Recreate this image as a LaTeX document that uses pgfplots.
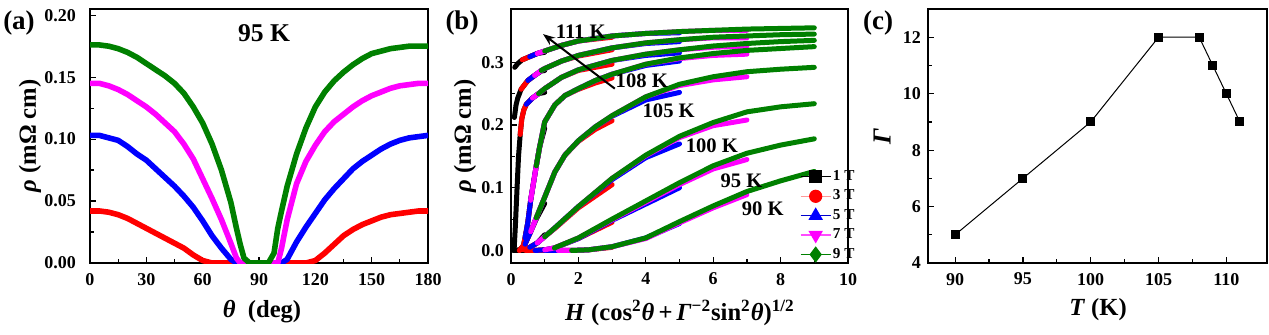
\documentclass[border=0pt]{standalone}
\usepackage{fontspec}
\setmainfont{Liberation Serif}
\usepackage{pgfplots}
\usepackage{pgfplotstable}
\pgfplotsset{compat=1.18}
\usetikzlibrary{arrows.meta}
\definecolor{ogreen}{RGB}{0,128,0}
\definecolor{mag}{RGB}{255,0,255}
\definecolor{ored}{RGB}{255,0,0}
\definecolor{oblue}{RGB}{0,0,255}

\pgfplotstableread{
th r3 r5 r7 r9
0 0.042 0.103 0.145 0.176
5 0.042 0.103 0.145 0.176
10 0.041 0.101 0.143 0.175
15 0.039 0.099 0.140 0.173
20 0.036 0.094 0.136 0.170
25 0.032 0.088 0.131 0.166
30 0.028 0.083 0.126 0.161
35 0.024 0.076 0.120 0.156
40 0.020 0.069 0.113 0.151
45 0.016 0.062 0.106 0.145
50 0.012 0.054 0.096 0.137
55 0.0065 0.045 0.084 0.126
60 0.002 0.034 0.068 0.113
65 0.0 0.022 0.052 0.096
70 0 0.012 0.035 0.075
75 0 0.003 0.016 0.049
78 0 0.0 0.004 0.028
80 0 0 0 0.015
82 0 0 0 0.004
85 0 0 0 0
90 0 0 0 0
95 0 0 0 0
98 0 0 0 0.008
100 0 0 0 0.028
102 0 0 0.012 0.042
105 0 0.003 0.035 0.062
110 0 0.017 0.064 0.088
115 0 0.029 0.082 0.109
120 0.002 0.040 0.095 0.126
125 0.008 0.051 0.106 0.138
130 0.015 0.060 0.114 0.147
135 0.022 0.068 0.120 0.154
140 0.027 0.076 0.126 0.160
145 0.031 0.082 0.131 0.165
150 0.034 0.087 0.135 0.169
155 0.037 0.092 0.138 0.171
160 0.039 0.096 0.141 0.173
165 0.040 0.099 0.143 0.174
170 0.041 0.101 0.144 0.175
175 0.042 0.102 0.145 0.175
180 0.042 0.103 0.145 0.175
}\tAng

\pgfplotstableread{
x r1 r3 r5 r7 r9
0.2 0 nan nan nan nan
0.6 0 0 nan nan nan
1.0 0 0 0 nan nan
1.4 nan 0 0 0 nan
1.8 nan 0 0 0 0
2.3 nan 0.001 0.001 0.001 0.001
3 nan 0.005 0.006 0.006 0.006
4 nan nan 0.02 0.019 0.02
5 nan nan 0.043 0.044 0.046
6 nan nan nan 0.068 0.071
7 nan nan nan 0.089 0.094
8 nan nan nan nan 0.111
9 nan nan nan nan 0.126
}\tA

\pgfplotstableread{
x r1 r3 r5 r7 r9
0.143 0 nan nan nan nan
0.429 0 0 nan nan nan
0.714 0 0 0 nan nan
1.0 0.001 0.001 0.001 0.001 nan
1.286 nan 0.004 0.004 0.004 0.004
2 nan 0.019 0.019 0.02 0.02
3 nan 0.045 0.048 0.049 0.05
4 nan nan 0.074 0.077 0.079
5 nan nan 0.100 0.105 0.108
6 nan nan nan 0.130 0.135
7 nan nan nan 0.145 0.155
8 nan nan nan nan 0.168
9 nan nan nan nan 0.178
}\tB

\pgfplotstableread{
x r1 r3 r5 r7 r9
0.111 0 nan nan nan nan
0.333 0.001 0.001 nan nan nan
0.556 0.005 0.005 0.005 nan nan
0.778 0.012 0.012 0.012 0.012 nan
1.0 0.025 0.022 0.022 0.022 0.022
1.3 nan 0.035 0.036 0.036 0.036
2 nan 0.068 0.07 0.07 0.07
3 nan 0.105 0.113 0.115 0.115
4 nan nan 0.148 0.151 0.152
5 nan nan 0.170 0.180 0.182
6 nan nan nan 0.199 0.204
7 nan nan nan 0.208 0.221
8 nan nan nan nan 0.229
9 nan nan nan nan 0.234
}\tC

\pgfplotstableread{
x r1 r3 r5 r7 r9
0.083 0 nan nan nan nan
0.25 0 0 nan nan nan
0.417 0.01 0.01 0.01 nan nan
0.583 0.03 0.03 0.03 0.03 nan
0.75 0.05 0.052 0.052 0.052 0.052
1.0 0.075 0.085 0.085 0.085 0.085
1.3 nan 0.125 0.125 0.125 0.125
1.6 nan 0.152 0.152 0.152 0.152
2 nan 0.174 0.175 0.175 0.175
2.5 nan 0.193 0.197 0.197 0.197
3 nan 0.207 0.214 0.215 0.215
4 nan nan 0.240 0.245 0.245
5 nan nan 0.252 0.263 0.265
6 nan nan nan 0.272 0.277
7 nan nan nan 0.277 0.285
8 nan nan nan nan 0.289
9 nan nan nan nan 0.292
}\tD

\pgfplotstableread{
x r1 r3 r5 r7 r9
0.083 0 nan nan nan nan
0.25 0 0 nan nan nan
0.37 0.008 0.008 nan nan nan
0.417 0.02 0.02 0.02 nan nan
0.5 0.045 0.045 0.045 nan nan
0.583 0.08 0.08 0.08 0.08 nan
0.75 0.135 0.135 0.135 0.135 0.135
0.85 0.165 0.165 0.165 0.165 0.165
1.0 0.195 0.205 0.205 0.205 0.205
1.3 nan 0.232 0.232 0.232 0.232
1.6 nan 0.247 0.247 0.247 0.247
2 nan 0.257 0.258 0.258 0.258
2.5 nan 0.267 0.271 0.271 0.271
3 nan 0.275 0.281 0.281 0.281
4 nan nan 0.295 0.297 0.297
5 nan nan 0.302 0.306 0.307
6 nan nan nan 0.311 0.314
7 nan nan nan 0.313 0.319
8 nan nan nan nan 0.322
9 nan nan nan nan 0.325
}\tE

\pgfplotstableread{
x r1 r3 r5 r7 r9
0.091 0 nan nan nan nan
0.13 0.04 nan nan nan nan
0.18 0.10 nan nan nan nan
0.223 0.15 nan nan nan nan
0.273 0.185 0.185 nan nan nan
0.32 0.21 0.21 nan nan nan
0.38 0.224 0.224 nan nan nan
0.455 0.233 0.233 0.233 nan nan
0.636 0.243 0.243 0.243 0.243 nan
0.818 0.25 0.25 0.25 0.25 0.25
1.0 0.252 0.258 0.258 0.258 0.258
1.5 nan 0.276 0.276 0.276 0.276
2 nan 0.287 0.288 0.288 0.288
3 nan 0.297 0.303 0.303 0.303
4 nan nan 0.311 0.313 0.313
5 nan nan 0.315 0.320 0.320
6 nan nan nan 0.324 0.326
7 nan nan nan 0.326 0.330
8 nan nan nan nan 0.333
9 nan nan nan nan 0.335
}\tF

\pgfplotstableread{
x r1 r3 r5 r7 r9
0.1 0.212 nan nan nan nan
0.15 0.232 nan nan nan nan
0.2 0.243 nan nan nan nan
0.3 0.257 0.257 nan nan nan
0.5 0.271 0.271 0.271 nan nan
0.7 0.279 0.279 0.279 0.279 nan
0.9 0.286 0.287 0.287 0.287 0.287
1.0 0.287 0.290 0.290 0.290 0.290
1.5 nan 0.302 0.302 0.302 0.302
2 nan 0.310 0.311 0.311 0.311
3 nan 0.320 0.323 0.323 0.323
4 nan nan 0.330 0.331 0.331
5 nan nan 0.333 0.336 0.336
6 nan nan nan 0.339 0.340
7 nan nan nan 0.339 0.342
8 nan nan nan nan 0.344
9 nan nan nan nan 0.345
}\tG

\pgfplotstableread{
x r1 r3 r5 r7 r9
0.111 0.292 nan nan nan nan
0.2 0.298 nan nan nan nan
0.333 0.304 0.304 nan nan nan
0.556 0.309 0.309 0.309 nan nan
0.778 0.314 0.314 0.314 0.314 nan
1.0 0.316 0.318 0.318 0.318 0.318
1.5 nan 0.327 0.327 0.327 0.327
2 nan 0.334 0.334 0.334 0.334
3 nan 0.340 0.342 0.342 0.342
4 nan nan 0.346 0.346 0.346
5 nan nan 0.347 0.349 0.349
6 nan nan nan 0.351 0.351
7 nan nan nan 0.351 0.353
8 nan nan nan nan 0.354
9 nan nan nan nan 0.355
}\tH

\pgfplotsset{
  myaxis/.style={
    scale only axis, height=127pt, anchor=south west,
    axis line style={line width=0.6pt},
    tick align=inside, xtick pos=left, ytick pos=left,
    major tick length=3pt, minor tick length=1.8pt,
    every tick/.style={black, line width=0.6pt},
    tick label style={font=\fontsize{9}{10}\selectfont\bfseries},
    /pgf/number format/assume math mode=true,
    xticklabel style={yshift=-1.5pt},
    scaled ticks=false,
  },
  band/.style={line width=2.5pt, line join=round, line cap=round, no marks, forget plot},
}
\newcommand{\fieldplots}[2]{%
  \addplot[band, #1] table[x=x,y=#2]{\tA};
  \addplot[band, #1] table[x=x,y=#2]{\tB};
  \addplot[band, #1] table[x=x,y=#2]{\tC};
  \addplot[band, #1] table[x=x,y=#2]{\tD};
  \addplot[band, #1] table[x=x,y=#2]{\tE};
  \addplot[band, #1] table[x=x,y=#2]{\tF};
  \addplot[band, #1] table[x=x,y=#2]{\tG};
  \addplot[band, #1] table[x=x,y=#2]{\tH};
}

\begin{document}
\begin{tikzpicture}
\useasboundingbox (0,0) rectangle (634.5pt,167pt);

% ---------- (a)
\begin{axis}[myaxis, at={(45pt,35.5pt)}, width=169pt,
  xmin=0, xmax=180, ymin=0, ymax=0.205,
  xtick={0,30,60,90,120,150,180}, minor x tick num=1,
  ytick={0,0.05,0.1,0.15,0.2}, minor y tick num=1,
  yticklabel style={xshift=-3.5pt,/pgf/number format/fixed,/pgf/number format/fixed zerofill,/pgf/number format/precision=2},
]
\addplot[band, ored, line width=2.8pt] table[x=th,y=r3]{\tAng};
\addplot[band, oblue, line width=2.8pt] table[x=th,y=r5]{\tAng};
\addplot[band, mag, line width=2.8pt] table[x=th,y=r7]{\tAng};
\addplot[band, ogreen, line width=2.8pt] table[x=th,y=r9]{\tAng};
\node[font=\fontsize{12.8}{14}\selectfont\bfseries] at (axis cs:92.7,0.1855) {95 K};
\end{axis}

% ---------- (b)
\begin{axis}[myaxis, at={(255.5pt,35.5pt)}, width=168.5pt,
  xmin=0, xmax=10, ymin=-0.02, ymax=0.385,
  xtick={0,2,4,6,8,10}, minor x tick num=1,
  ytick={0,0.1,0.2,0.3}, minor y tick num=1,
  yticklabel style={/pgf/number format/fixed,/pgf/number format/fixed zerofill,/pgf/number format/precision=1},
  legend style={draw=none, fill=none, at={(rel axis cs:1.025,0.0)}, anchor=south east,
    font=\fontsize{7.6}{8}\selectfont\bfseries, row sep=1.6pt, inner sep=0pt,
    nodes={inner sep=0.8pt}},
  legend cell align=left,
  legend image code/.code={\draw[mark repeat=2,mark phase=2,#1] plot coordinates {(0pt,0pt)(7.5pt,0pt)(15pt,0pt)};},
]
\addlegendimage{black, line width=0.6pt, mark=square*, mark size=3pt}
\addlegendimage{ored!40, line width=0.6pt, mark=*, mark size=3pt, mark options={fill=ored, draw=ored}}
\addlegendimage{oblue!80!black, line width=0.6pt, mark=triangle*, mark size=3.6pt, mark options={fill=oblue, draw=oblue}}
\addlegendimage{mag!70, line width=0.6pt, mark=triangle*, mark size=3.6pt, mark options={rotate=180, fill=mag, draw=mag}}
\addlegendimage{ogreen, line width=0.6pt, mark=diamond*, mark size=3.6pt}
\legend{1 T,3 T,5 T,7 T,9 T}
\fieldplots{black}{r1}
\fieldplots{ored}{r3}
\fieldplots{oblue}{r5}
\fieldplots{mag}{r7}
\fieldplots{ogreen}{r9}
\draw[-{Stealth[length=6pt,width=4.5pt]}, line width=1pt] (axis cs:3.08,0.258) -- (axis cs:0.95,0.345);
\begin{scope}[every node/.style={font=\fontsize{10.3}{12}\selectfont\bfseries}]
\node at (axis cs:2.07,0.349) {111 K};
\node at (axis cs:3.88,0.271) {108 K};
\node at (axis cs:4.68,0.223) {105 K};
\node at (axis cs:5.96,0.167) {100 K};
\node at (axis cs:6.84,0.111) {95 K};
\node at (axis cs:7.47,0.067) {90 K};
\end{scope}
\end{axis}

% ---------- (c)
\begin{axis}[myaxis, at={(464pt,35.5pt)}, width=169.5pt,
  xmin=88, xmax=113, ymin=4, ymax=13,
  xtick={90,95,100,105,110}, minor x tick num=1,
  ytick={4,6,8,10,12}, minor y tick num=1,
]
\addplot[black, line width=0.5pt, mark=square*, mark size=2pt] coordinates {
(90,5) (95,7) (100,9) (105,12) (108,12) (109,11) (110,10) (111,9)};
\end{axis}

% ---------- labels
\node[font=\fontsize{13.5}{15}\selectfont\bfseries] at (9.5pt,155.5pt) {(a)};
\node[font=\fontsize{13.5}{15}\selectfont\bfseries] at (231pt,155.5pt) {(b)};
\node[font=\fontsize{13.5}{15}\selectfont\bfseries] at (439pt,155.5pt) {(c)};

\node[rotate=90, font=\fontsize{12.3}{14}\selectfont\bfseries] at (15pt,99pt) {\textit{ρ} (mΩ cm)};
\node[font=\fontsize{12.3}{14}\selectfont\bfseries] at (131pt,11pt) {\textit{θ}\ \ (deg)};

\node[rotate=90, font=\fontsize{12.3}{14}\selectfont\bfseries] at (232.5pt,99pt) {\textit{ρ} (mΩ cm)};
\node[font=\fontsize{12.3}{14}\selectfont\bfseries] at (340pt,10.5pt) {\textit{H} (cos\textsuperscript{2}\textit{θ}\,+\,\textit{Γ}\textsuperscript{−2}sin\textsuperscript{2}\textit{θ})\textsuperscript{1/2}};

\node[rotate=90, font=\fontsize{13}{14}\selectfont\bfseries] at (441pt,98.5pt) {\textit{Γ}};
\node[font=\fontsize{12.3}{14}\selectfont\bfseries] at (549pt,12pt) {\textit{T} (K)};
\end{tikzpicture}
\end{document}
